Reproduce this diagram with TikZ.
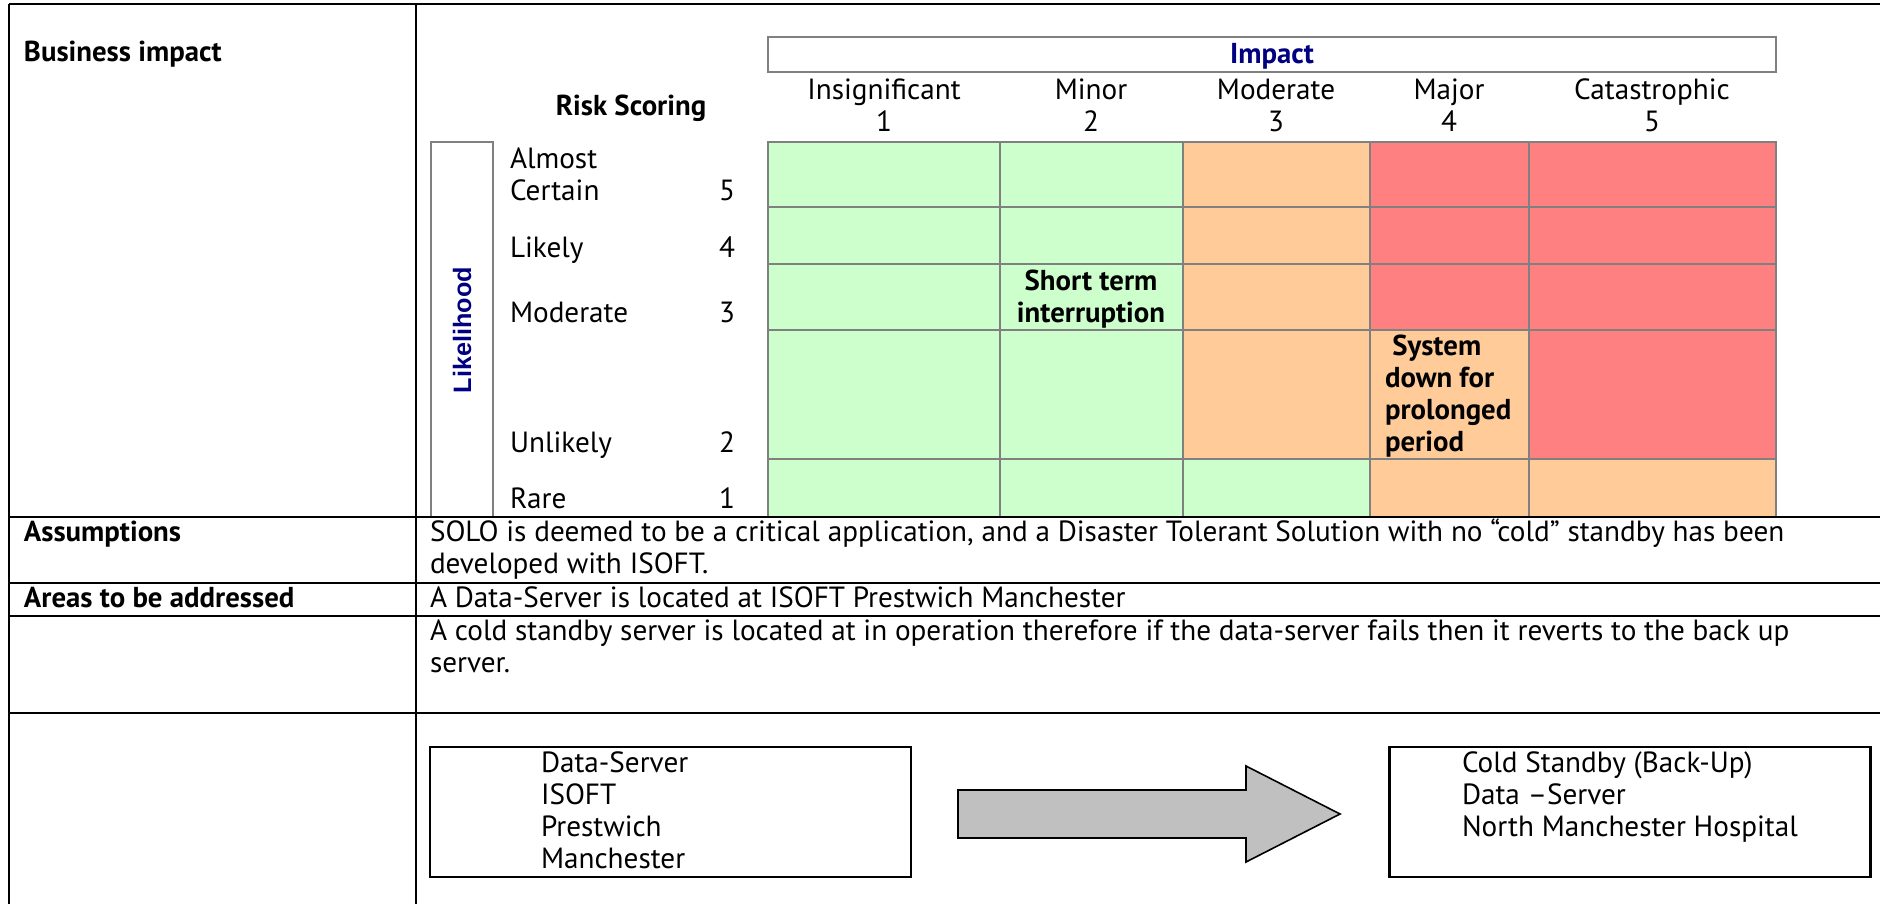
\documentclass[tikz,border=0pt]{standalone}
\usepackage{fontspec}
\setmainfont{PT Sans}
\newfontfamily\likfont{Liberation Sans}
\definecolor{cgreen}{HTML}{CCFFCC}
\definecolor{corange}{HTML}{FFCC99}
\definecolor{cred}{HTML}{FF8080}
\definecolor{cgray}{HTML}{808080}
\definecolor{cnavy}{HTML}{000080}
\definecolor{cfill}{HTML}{C0C0C0}
\begin{document}
\begin{tikzpicture}[x=0.5pt,y=-0.5pt,
  txt/.style={inner sep=0pt, outer sep=0pt, font=\fontsize{14.6}{16}\selectfont},
  btxt/.style={inner sep=0pt, outer sep=0pt, font=\fontsize{14.4}{16}\selectfont\bfseries},
  tline/.style={line width=1.1pt, black},
  gline/.style={line width=1pt, cgray},
  sbox/.style={draw=black, line width=1.1pt, inner sep=0pt, minimum width=240.5pt, minimum height=65pt}]
\useasboundingbox (0,0) rectangle (1880,904);
% risk matrix fills
\fill[cgreen]  (768,142) rectangle (1183,517);
\fill[corange] (1183,142) rectangle (1370,459);
\fill[cgreen]  (1183,459) rectangle (1370,517);
\fill[cred]    (1370,142) rectangle (1529,330);
\fill[corange] (1370,330) rectangle (1529,517);
\fill[cred]    (1529,142) rectangle (1776,459);
\fill[corange] (1529,459) rectangle (1776,517);
% matrix grid
\draw[gline] (768,142) rectangle (1776,517);
\foreach \xx in {1000,1183,1370,1529} \draw[gline] (\xx,142) -- (\xx,517);
\foreach \yy in {207,264,330,459} \draw[gline] (768,\yy) -- (1776,\yy);
% impact box and likelihood box
\draw[gline] (768,37) rectangle (1776,72);
\draw[gline] (431,142) rectangle (493,517);
% table lines
\draw[tline] (9,4) -- (1880,4);
\draw[tline] (9,4) -- (9,904);
\draw[tline] (416,4) -- (416,904);
\foreach \yy in {517,583,616,713} \draw[tline] (9,\yy) -- (1880,\yy);
% texts (multi-line nodes: base anchor = last line's baseline)
\node[btxt, anchor=base west] (bi) at (24,62) {Business impact};
\node[btxt, anchor=base] (rs) at (631,116) {Risk Scoring};
\node[btxt, anchor=base, text=cnavy] (imp) at (1272,64) {Impact};
\node[txt, anchor=base, align=center] (h1) at (884,132) {Insignificant\\1};
\node[txt, anchor=base, align=center] (h2) at (1091,132) {Minor\\2};
\node[txt, anchor=base, align=center] (h3) at (1276,132) {Moderate\\3};
\node[txt, anchor=base, align=center] (h4) at (1449,132) {Major\\4};
\node[txt, anchor=base, align=center] (h5) at (1652,132) {Catastrophic\\5};
\node[inner sep=0pt, rotate=90, text=cnavy, font=\likfont\fontsize{12.6}{14}\selectfont\bfseries] (lik) at (462,330) {Likelihood};
\node[txt, anchor=base west, align=left] (l5) at (510,200) {Almost\\Certain};
\node[txt, anchor=base] (n5) at (727,200) {5};
\node[txt, anchor=base west] (l4) at (510,257) {Likely};
\node[txt, anchor=base] (n4) at (727,257) {4};
\node[txt, anchor=base west] (l3) at (510,322) {Moderate};
\node[txt, anchor=base] (n3) at (727,322) {3};
\node[txt, anchor=base west] (l2) at (510,452) {Unlikely};
\node[txt, anchor=base] (n2) at (727,452) {2};
\node[txt, anchor=base west] (l1) at (510,508) {Rare};
\node[txt, anchor=base] (n1) at (727,508) {1};
\node[btxt, anchor=base, align=center] (st) at (1091,322) {Short term\\interruption};
\node[btxt, anchor=base west, align=left] (sd) at (1385,451) {\ System\\down for\\prolonged\\period};
\node[btxt, anchor=base west] (as) at (24,541) {Assumptions};
\node[txt, anchor=base west, align=left] (ast) at (430,573) {SOLO is deemed to be a critical application, and a Disaster Tolerant Solution with no “cold” standby has been\\developed with ISOFT.};
\node[btxt, anchor=base west] (ar) at (24,607) {Areas to be addressed};
\node[txt, anchor=base west] (art) at (430,607) {A Data-Server is located at ISOFT Prestwich Manchester};
\node[txt, anchor=base west, align=left] (cs) at (430,672) {A cold standby server is located at in operation therefore if the data-server fails then it reverts to the back up\\server.};
% bottom boxes
\node[sbox] (box1) at (670.5,812) {};
\node[txt, anchor=base west, align=left] (b1t) at (541,868) {Data-Server\\ISOFT\\Prestwich\\Manchester};
\node[sbox] (box2) at (1630,812) {};
\node[txt, anchor=base west, align=left] (b2t) at (1462,836) {Cold Standby (Back-Up)\\Data –Server\\North Manchester Hospital};
% block arrow
\draw[fill=cfill, line width=0.8pt, line join=miter] (958,790) -- (1246,790) -- (1246,766) -- (1340,814) -- (1246,862) -- (1246,838) -- (958,838) -- cycle;
\end{tikzpicture}
\end{document}
